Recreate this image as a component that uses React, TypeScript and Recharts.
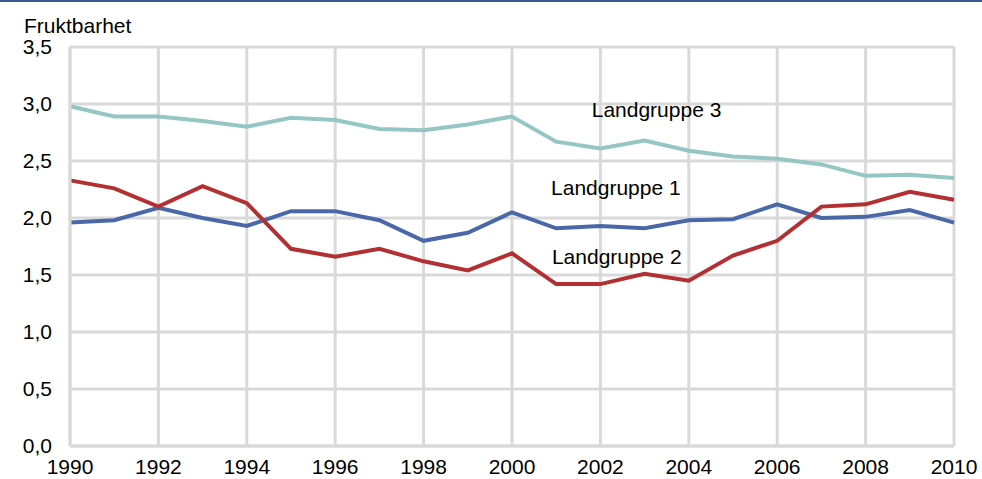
import {
  CartesianGrid,
  Label,
  Line,
  LineChart,
  ReferenceDot,
  XAxis,
  YAxis,
} from "recharts";

const years = [
  1990, 1991, 1992, 1993, 1994, 1995, 1996, 1997, 1998, 1999, 2000,
  2001, 2002, 2003, 2004, 2005, 2006, 2007, 2008, 2009, 2010,
];

const landgruppe1 = [
  1.96, 1.98, 2.09, 2.0, 1.93, 2.06, 2.06, 1.98, 1.8, 1.87, 2.05,
  1.91, 1.93, 1.91, 1.98, 1.99, 2.12, 2.0, 2.01, 2.07, 1.96,
];

const landgruppe2 = [
  2.33, 2.26, 2.1, 2.28, 2.13, 1.73, 1.66, 1.73, 1.62, 1.54, 1.69,
  1.42, 1.42, 1.51, 1.45, 1.67, 1.8, 2.1, 2.12, 2.23, 2.16,
];

const landgruppe3 = [
  2.98, 2.89, 2.89, 2.85, 2.8, 2.88, 2.86, 2.78, 2.77, 2.82, 2.89,
  2.67, 2.61, 2.68, 2.59, 2.54, 2.52, 2.47, 2.37, 2.38, 2.35,
];

const xTicks = [1990, 1992, 1994, 1996, 1998, 2000, 2002, 2004, 2006, 2008, 2010];
const yTicks = [0, 0.5, 1, 1.5, 2, 2.5, 3, 3.5];

const data = years.map((year, i) => ({
  year,
  g1: landgruppe1[i],
  g2: landgruppe2[i],
  g3: landgruppe3[i],
}));

const FONT = "'Liberation Sans', Arial, sans-serif";
const GRID = "#d9d9d9";

const formatComma = (v: number) => v.toFixed(1).replace(".", ",");

export default function App() {
  return (
    <div
      style={{
        position: "fixed",
        top: 0,
        left: 0,
        width: 982,
        height: 479,
        background: "#fff",
        fontFamily: FONT,
      }}
    >
      <div style={{ position: "absolute", top: 0, left: 0, width: 982, height: 2, background: "#3b5a92" }} />
      <div
        style={{
          position: "absolute",
          left: 24,
          top: 15,
          fontSize: 21,
          lineHeight: "21px",
          color: "#000",
        }}
      >
        Fruktbarhet
      </div>
      <LineChart
        width={982}
        height={479}
        data={data}
        margin={{ top: 47, right: 28, left: 0, bottom: 0 }}
        style={{ fontFamily: FONT }}
      >
        <CartesianGrid stroke={GRID} strokeWidth={3} />
        <XAxis
          dataKey="year"
          type="number"
          domain={[1990, 2010]}
          ticks={xTicks}
          tickLine={false}
          axisLine={{ stroke: GRID, strokeWidth: 3 }}
          tickMargin={7}
          height={33}
          tick={{ fontSize: 21, fill: "#000" }}
          interval={0}
        />
        <YAxis
          type="number"
          domain={[0, 3.5]}
          ticks={yTicks}
          tickFormatter={formatComma}
          tickLine={false}
          axisLine={{ stroke: GRID, strokeWidth: 3 }}
          tickMargin={12}
          width={70}
          tick={{ fontSize: 21, fill: "#000" }}
          interval={0}
        />
        <Line dataKey="g3" stroke="#93c6c4" strokeWidth={4} dot={false} isAnimationActive={false} />
        <Line dataKey="g1" stroke="#4a68a8" strokeWidth={4} dot={false} isAnimationActive={false} />
        <Line dataKey="g2" stroke="#b33032" strokeWidth={4} dot={false} isAnimationActive={false} />
        <ReferenceDot x={2003.27} y={2.95} r={0} ifOverflow="visible">
          <Label value="Landgruppe 3" position="center" fontSize={21} fill="#000" />
        </ReferenceDot>
        <ReferenceDot x={2002.35} y={2.27} r={0} ifOverflow="visible">
          <Label value="Landgruppe 1" position="center" fontSize={21} fill="#000" />
        </ReferenceDot>
        <ReferenceDot x={2002.37} y={1.66} r={0} ifOverflow="visible">
          <Label value="Landgruppe 2" position="center" fontSize={21} fill="#000" />
        </ReferenceDot>
      </LineChart>
    </div>
  );
}
